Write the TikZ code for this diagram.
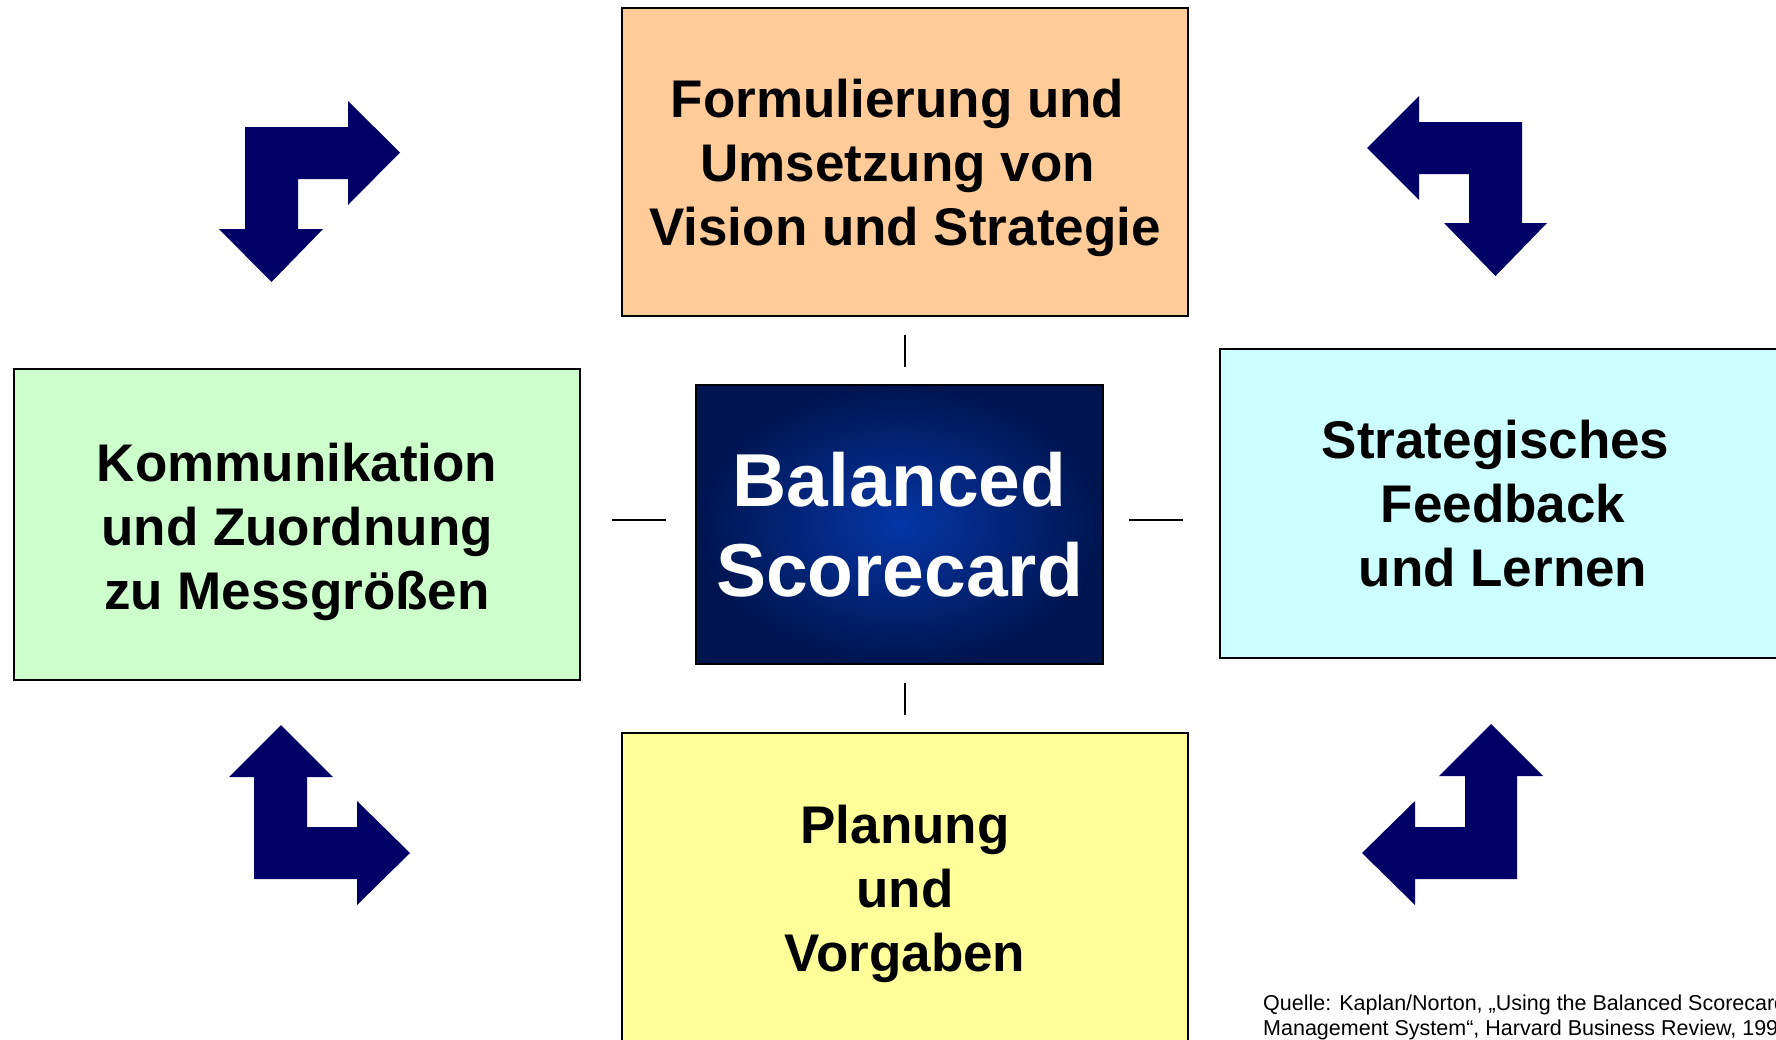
\documentclass[tikz,border=0pt]{standalone}
\usepackage{fontspec}
\setmainfont{Liberation Sans}
\usetikzlibrary{calc}
\definecolor{peach}{HTML}{FFCC99}
\definecolor{mint}{HTML}{CCFFCC}
\definecolor{aqua}{HTML}{CCFFFF}
\definecolor{lemon}{HTML}{FFFF99}
\definecolor{navy}{HTML}{000066}
\definecolor{bscin}{HTML}{0536A6}
\definecolor{bscout}{HTML}{001550}
\begin{document}
\begin{tikzpicture}[x=1pt,y=-1pt,
 panel/.style={draw=black,line width=2pt,inner sep=0pt,minimum width=566pt},
 lbl/.style={align=center,inner sep=0pt,text=black,font=\bfseries\fontsize{53}{64}\selectfont},
 arrowshape/.style={fill=navy,draw=none},
 tickline/.style={draw=black,line width=1.5pt}]
\useasboundingbox (0,0) rectangle (1776,1039);
\clip (0,0) rectangle (1776,1039);
\fill[white] (0,0) rectangle (1776,1039);

% panels
\node[panel,fill=peach,minimum height=308pt] (vision) at (905,162) {};
\node[lbl] (visiontxt) at ($(vision.center)+(0,6)$) {Formulierung und\kern.278em\\Umsetzung von\kern.278em\\Vision und Strategie};

\node[panel,fill=mint,minimum height=311pt] (comm) at (297,524.5) {};
\node[lbl] (commtxt) at ($(comm.center)+(0,7.5)$) {Kommunikation\\und Zuordnung\\zu Messgrößen};

\node[panel,fill=aqua,minimum height=309pt] (feedback) at (1503,503.5) {};
\node[lbl] (feedbacktxt) at ($(feedback.center)+(0,0)$) {Strategisches\kern.278em\\Feedback\\und Lernen};

\node[panel,fill=lemon,minimum height=308pt] (plan) at (905,887) {};
\node[lbl] (plantxt) at ($(plan.center)+(0,7)$) {Planung\\und\\Vorgaben};

% centre
\node[draw=black,line width=2pt,minimum width=407pt,minimum height=279pt,inner sep=0pt,
      inner color=bscin,outer color=bscout,text=white,align=center,
      font=\bfseries\fontsize{75}{90}\selectfont] (bsc) at (899.5,524.5) {Balanced\\Scorecard};

% ticks
\coordinate (tTa) at (905,335); \coordinate (tTb) at (905,367);
\coordinate (tBa) at (905,683); \coordinate (tBb) at (905,715);
\coordinate (tLa) at (612,520); \coordinate (tLb) at (666,520);
\coordinate (tRa) at (1129,520); \coordinate (tRb) at (1183,520);
\draw[tickline] (tTa) -- (tTb);
\draw[tickline] (tBa) -- (tBb);
\draw[tickline] (tLa) -- (tLb);
\draw[tickline] (tRa) -- (tRb);

% arrows
\fill[arrowshape] (245,127) -- (348,127) -- (348,101) -- (400,152.5) -- (348,205) -- (348,179)
  -- (298,179) -- (298,229) -- (323,229) -- (271.5,282) -- (219,229) -- (245,229) -- cycle;
\fill[arrowshape] (1522,122) -- (1419,122) -- (1419,96) -- (1367,148) -- (1419,200) -- (1419,174)
  -- (1469,174) -- (1469,223) -- (1444,223) -- (1495.5,276) -- (1547,223) -- (1522,223) -- cycle;
\fill[arrowshape] (254,879) -- (254,777) -- (229,777) -- (281,725) -- (333,777) -- (307,777)
  -- (307,827) -- (357,827) -- (357,801) -- (410,853) -- (357,905) -- (357,879) -- cycle;
\fill[arrowshape] (1517,879) -- (1517,776) -- (1543,776) -- (1491,724) -- (1439,776) -- (1465,776)
  -- (1465,827) -- (1415,827) -- (1415,801) -- (1362,853) -- (1415,905) -- (1415,879) -- cycle;

% source
\node[anchor=north west,inner sep=0pt,align=left,font=\fontsize{21.5}{25}\selectfont] (src) at (1263,994.5)
  {Quelle: Kaplan/Norton, „Using the Balanced Scorecard\\Management System“, Harvard Business Review, 199};
\end{tikzpicture}
\end{document}
